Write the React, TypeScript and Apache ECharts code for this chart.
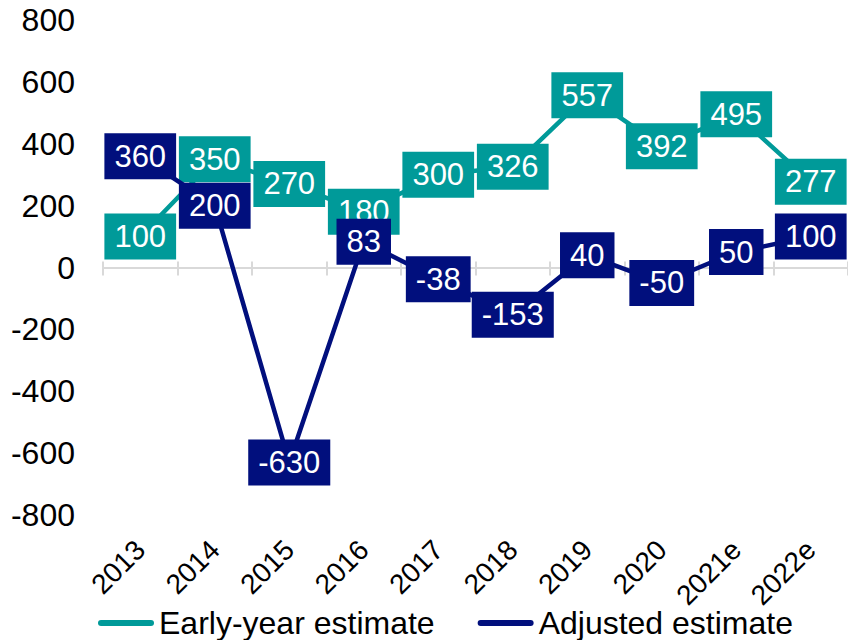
import React, { useEffect, useRef } from "react";
import * as echarts from "echarts";

const categories = ["2013", "2014", "2015", "2016", "2017", "2018", "2019", "2020", "2021e", "2022e"];
const earlyYear = [100, 350, 270, 180, 300, 326, 557, 392, 495, 277];
const adjusted = [360, 200, -630, 83, -38, -153, 40, -50, 50, 100];
const yTicks = { min: -800, max: 800, interval: 200 };

const TEAL = "#009a99";
const NAVY = "#010f7d";
const FONT = 'Arial, "Liberation Sans", sans-serif';
const capsule = "path://M3,0 L53,0 A3,3 0 0 1 53,6 L3,6 A3,3 0 0 1 3,0 Z";

export default function App() {
  const ref = useRef<HTMLDivElement>(null);
  useEffect(() => {
    if (!ref.current) return;
    const chart = echarts.init(ref.current, undefined, { renderer: "svg" });
    const label = (bg: string) => ({
      show: true,
      position: "inside",
      color: "#ffffff",
      fontSize: 31,
      fontFamily: FONT,
      backgroundColor: bg,
      padding: [7, 10, 7, 10],
      lineHeight: 32,
    });
    chart.setOption({
      animation: false,
      backgroundColor: "#ffffff",
      textStyle: { fontFamily: FONT },
      grid: { left: 103, right: 0, top: 20, bottom: 125, containLabel: false },
      legend: {
        left: 98,
        top: 607,
        padding: 0,
        itemWidth: 56,
        itemHeight: 6,
        itemGap: 43,
        icon: capsule,
        textStyle: { fontSize: 32, color: "#000000", fontFamily: FONT },
        data: [
          { name: "Early-year estimate", itemStyle: { color: TEAL } },
          { name: "Adjusted estimate", itemStyle: { color: NAVY } },
        ],
      },
      xAxis: [
        {
          type: "category",
          data: categories,
          boundaryGap: true,
          axisLine: { show: true, onZero: true, onZeroAxisIndex: 0, lineStyle: { color: "#d9d9d9", width: 2 } },
          axisTick: { show: true, length: 8, lineStyle: { color: "#d9d9d9", width: 2 } },
          axisLabel: { show: false },
          splitLine: { show: false },
          z: 1,
        },
        {
          type: "category",
          data: categories,
          boundaryGap: true,
          position: "bottom",
          axisLine: { show: true, onZero: true, onZeroAxisIndex: 1, lineStyle: { color: "#d9d9d9", width: 2 } },
          axisTick: { show: true, inside: true, length: 6, lineStyle: { color: "#d9d9d9", width: 2 } },
          axisLabel: { show: false },
          splitLine: { show: false },
        },
        {
          type: "category",
          data: categories,
          boundaryGap: true,
          position: "bottom",
          axisLine: { show: false, onZero: false },
          axisTick: { show: false },
          axisLabel: {
            show: true,
            rotate: 45,
            interval: 0,
            margin: 30,
            fontSize: 28,
            color: "#000000",
            fontFamily: FONT,
          },
          splitLine: { show: false },
        },
      ],
      yAxis: [
        {
          type: "value",
          min: yTicks.min,
          max: yTicks.max,
          interval: yTicks.interval,
          axisLine: { show: false },
          axisTick: { show: false },
          splitLine: { show: false },
          axisLabel: { fontSize: 32, color: "#000000", margin: 28, fontFamily: FONT },
        },
        {
          type: "value",
          min: yTicks.min,
          max: yTicks.max,
          interval: yTicks.interval,
          position: "left",
          axisLine: { show: false },
          axisTick: { show: false },
          splitLine: { show: false },
          axisLabel: { show: false },
        },
      ],
      series: [
        {
          name: "Early-year estimate",
          type: "line",
          data: earlyYear,
          xAxisIndex: 0,
          yAxisIndex: 0,
          symbol: "circle",
          symbolSize: 1,
          itemStyle: { color: TEAL },
          lineStyle: { color: TEAL, width: 4.5 },
          label: label(TEAL),
          z: 2,
        },
        {
          name: "Adjusted estimate",
          type: "line",
          data: adjusted,
          xAxisIndex: 0,
          yAxisIndex: 0,
          symbol: "circle",
          symbolSize: 1,
          itemStyle: { color: NAVY },
          lineStyle: { color: NAVY, width: 4.5 },
          label: label(NAVY),
          z: 3,
        },
      ],
    });
    return () => chart.dispose();
  }, []);
  return (
    <div
      ref={ref}
      style={{ position: "fixed", left: 0, top: 0, width: 848, height: 640 }}
    />
  );
}
